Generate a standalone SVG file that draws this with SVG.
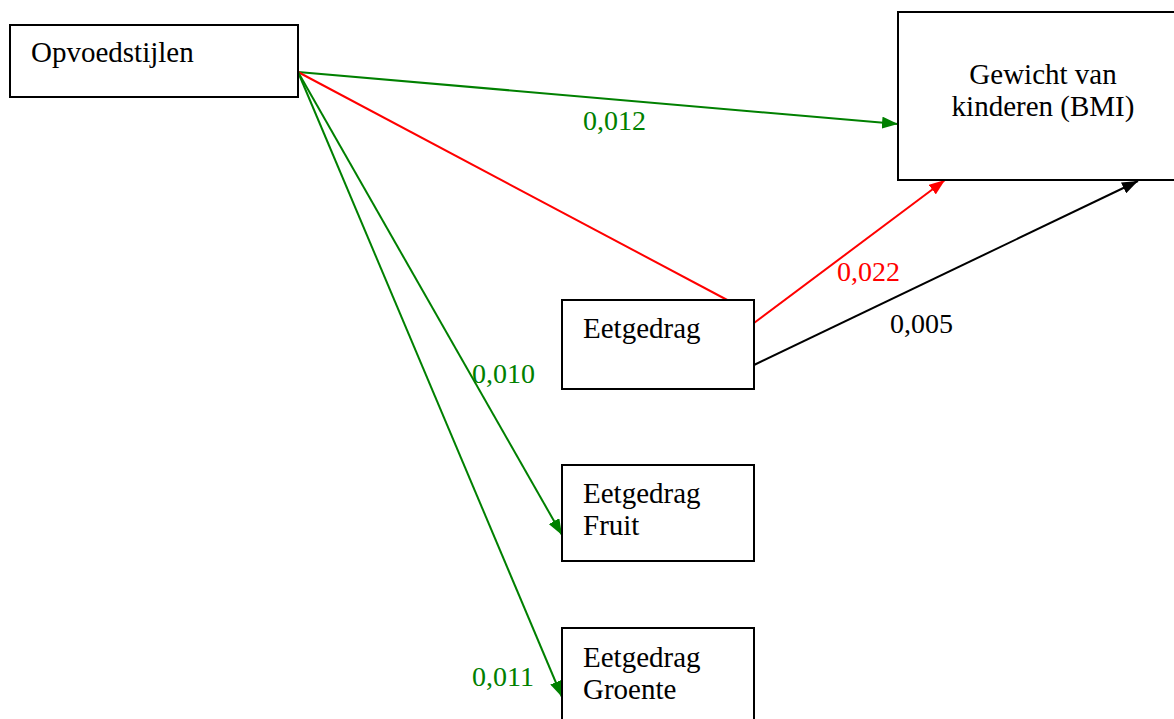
<svg xmlns="http://www.w3.org/2000/svg" width="1174" height="719" viewBox="0 0 1174 719">
  <style>
    .box { fill: #ffffff; stroke: #000000; stroke-width: 2; }
    .t { font-family: 'Liberation Serif', 'DejaVu Serif', serif; font-size: 29px; fill: #000000; }
    .lbl { font-family: 'Liberation Serif', 'DejaVu Serif', serif; font-size: 28px; }
    .g { stroke: #008000; stroke-width: 2; fill: none; }
    .r { stroke: #ff0000; stroke-width: 2; fill: none; }
    .k { stroke: #000000; stroke-width: 2; fill: none; }
  </style>
  <defs>
    <marker id="ah-green" viewBox="0 0 16 12" refX="16" refY="6" markerWidth="16" markerHeight="12" markerUnits="userSpaceOnUse" orient="auto">
      <path d="M0,0 L16,6 L0,12 Z" fill="#008000"/>
    </marker>
    <marker id="ah-red" viewBox="0 0 16 12" refX="16" refY="6" markerWidth="16" markerHeight="12" markerUnits="userSpaceOnUse" orient="auto">
      <path d="M0,0 L16,6 L0,12 Z" fill="#ff0000"/>
    </marker>
    <marker id="ah-black" viewBox="0 0 16 12" refX="16" refY="6" markerWidth="16" markerHeight="12" markerUnits="userSpaceOnUse" orient="auto">
      <path d="M0,0 L16,6 L0,12 Z" fill="#000000"/>
    </marker>
  </defs>
  <rect width="1174" height="719" fill="#ffffff"/>

  <g id="connectors">
    <line class="g" x1="298" y1="72" x2="898" y2="124" marker-end="url(#ah-green)"/>
    <line class="r" x1="298" y1="72" x2="731" y2="302"/>
    <line class="r" x1="754" y1="323" x2="945" y2="180" marker-end="url(#ah-red)"/>
    <line class="k" x1="754" y1="365" x2="1138" y2="181" marker-end="url(#ah-black)"/>
    <line class="g" x1="298" y1="72" x2="562" y2="535" marker-end="url(#ah-green)"/>
    <line class="g" x1="298" y1="72" x2="562" y2="697" marker-end="url(#ah-green)"/>
    <text class="lbl" x="583" y="130" fill="#008000">0,012</text>
    <text class="lbl" x="837" y="281" fill="#ff0000">0,022</text>
    <text class="lbl" x="890" y="333" fill="#000000">0,005</text>
    <text class="lbl" x="472" y="383" fill="#008000">0,010</text>
    <text class="lbl" x="472" y="686" fill="#008000">0,011</text>
  </g>

  <g id="opvoedstijlen">
    <rect class="box" x="10" y="25" width="288" height="72"/>
    <text class="t" x="31" y="62">Opvoedstijlen</text>
  </g>

  <g id="gewicht">
    <rect class="box" x="898" y="12" width="290" height="168"/>
    <text class="t" x="1043" y="84" text-anchor="middle">Gewicht van</text>
    <text class="t" x="1043" y="116" text-anchor="middle">kinderen (BMI)</text>
  </g>

  <g id="eetgedrag">
    <rect class="box" x="562" y="300" width="192" height="89"/>
    <text class="t" x="583" y="338">Eetgedrag</text>
  </g>

  <g id="eetgedrag-fruit">
    <rect class="box" x="562" y="465" width="192" height="96"/>
    <text class="t" x="583" y="503">Eetgedrag</text>
    <text class="t" x="583" y="535">Fruit</text>
  </g>

  <g id="eetgedrag-groente">
    <rect class="box" x="562" y="628" width="192" height="110"/>
    <text class="t" x="583" y="667">Eetgedrag</text>
    <text class="t" x="583" y="699">Groente</text>
  </g>
</svg>
